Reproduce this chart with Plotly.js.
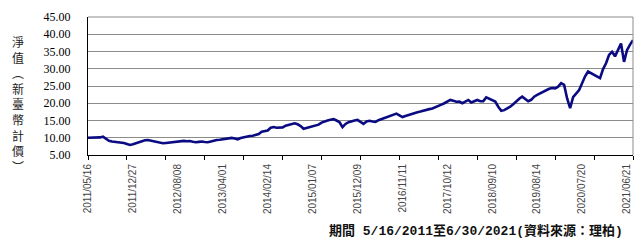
<!DOCTYPE html>
<html>
<head>
<meta charset="utf-8">
<script src="https://cdn.plot.ly/plotly-3.0.1.min.js"></script>
<style>html,body{margin:0;padding:0;background:#fff;}#chart{width:644px;height:242px;}</style>
</head>
<body>
<div id="chart"></div>
<script>
// NAV (TWD) at equal steps along the trading-day axis
const nav = [
10.0,10.0,9.95,10.0,10.1,10.3,9.6,9.1,8.9,8.85,
8.6,8.7,8.5,8.2,7.9,8.1,8.4,8.8,9.05,9.3,
9.35,9.2,9.0,8.85,8.7,8.4,8.5,8.6,8.6,8.8,
8.95,9.05,9.1,9.0,9.05,8.85,8.7,8.8,8.9,8.75,
8.7,8.9,9.2,9.35,9.4,9.5,9.55,9.7,9.95,9.8,
9.55,9.9,10.15,10.3,10.5,10.6,10.9,11.1,11.75,11.9,
12.1,12.9,13.1,12.9,13.0,13.0,13.5,13.8,14.1,14.2,
13.9,13.4,12.6,12.8,13.1,13.3,13.5,13.8,14.4,14.8,
15.0,15.2,15.4,15.0,14.5,13.1,14.0,14.5,14.8,15.0,
15.15,14.6,14.0,14.7,14.9,14.7,14.6,15.1,15.4,15.7,
16.2,16.4,16.7,17.0,16.5,16.0,16.3,16.6,17.0,17.3,
17.4,17.6,17.9,18.1,18.3,18.5,18.8,19.2,19.6,20.0,
20.6,20.95,20.7,20.45,20.5,20.0,20.5,20.95,20.2,20.6,
20.95,20.6,20.6,21.7,21.3,20.9,20.5,19.0,17.8,18.0,
18.4,19.0,19.7,20.6,21.3,21.9,21.2,20.6,21.0,21.9,
22.4,22.9,23.3,23.7,24.2,24.4,24.3,24.8,25.8,25.3,
21.4,18.6,21.8,22.8,23.85,25.8,27.8,29.2,28.7,28.2,
27.7,27.3,29.9,31.6,34.0,34.9,33.6,35.3,37.3,32.0,
35.4,37.0,38.3
];
const dayIndex = nav.map((v, i) => i);
const tickLabels = ["2011/05/16","2011/12/27","2012/08/08","2013/04/01","2014/02/14","2015/01/07","2015/12/09","2016/11/11","2017/10/12","2018/09/10","2019/08/14","2020/07/20","2021/06/21"];
const labelStep = 15;
const markStep = 13;
const labelPos = tickLabels.map((t, k) => k * labelStep);
const lastIdx = dayIndex[dayIndex.length - 1];
const markPos = [];
for (let p = 0; p <= lastIdx; p += markStep) markPos.push(p);
const yTitle = "淨<br>值<br>︵<br>新<br>臺<br>幣<br>計<br>價<br>︶";
const note = "期間 5/16/2011至6/30/2021(資料來源：理柏)";

const trace = {
  x: dayIndex, y: nav, type: 'scatter', mode: 'lines',
  line: {color: '#0a0a82', width: 2.6}, hoverinfo: 'skip'
};
const ghost = {x: [0], y: [null], xaxis: 'x2', yaxis: 'y', type: 'scatter', mode: 'lines', showlegend: false, hoverinfo: 'skip'};

const layout = {
  width: 644, height: 242,
  margin: {l: 88, r: 11, t: 17, b: 87},
  paper_bgcolor: '#fff', plot_bgcolor: '#fff',
  showlegend: false,
  xaxis: {
    range: [0, lastIdx], tickvals: labelPos, ticktext: tickLabels,
    tickangle: -90, ticks: '', showgrid: false, zeroline: false,
    showline: true, linecolor: '#000', linewidth: 1,
    tickfont: {family: 'Liberation Sans, Arial', size: 10, color: '#444'},
    ticklabelstandoff: 4
  },
  xaxis2: {
    overlaying: 'x', anchor: 'y', side: 'bottom', range: [0, lastIdx],
    tickvals: markPos, ticks: 'outside', ticklen: 4, tickcolor: '#000', tickwidth: 1,
    showticklabels: false, showgrid: false, zeroline: false, showline: false
  },
  yaxis: {
    range: [5, 45], dtick: 5, tick0: 5, tickformat: '.2f',
    showgrid: true, gridcolor: '#8c8c8c', gridwidth: 1,
    zeroline: false, showline: true, linecolor: '#000', linewidth: 1,
    ticks: '', ticklabelstandoff: 14,
    tickfont: {family: 'Liberation Serif, Times New Roman, serif', size: 12, color: '#000'}
  },
  shapes: [
    {type: 'line', xref: 'paper', yref: 'paper', x0: 0, x1: 1, y0: 1, y1: 1, line: {color: '#8c8c8c', width: 1}},
    {type: 'line', xref: 'paper', yref: 'paper', x0: 1, x1: 1, y0: 0, y1: 1, line: {color: '#8c8c8c', width: 1}}
  ],
  annotations: [
    {text: yTitle, xref: 'paper', yref: 'paper', x: -0.128, y: 0.37, xanchor: 'center', yanchor: 'middle',
     showarrow: false, font: {family: 'Noto Sans CJK TC', size: 12, color: '#222'}},
    {text: note, xref: 'paper', yref: 'paper', x: 0.985, y: -0.551, xanchor: 'right', yanchor: 'middle',
     showarrow: false, font: {family: 'Liberation Mono, Noto Sans CJK TC', size: 13, color: '#111', weight: 'bold'}}
  ]
};

Plotly.newPlot('chart', [trace, ghost], layout, {staticPlot: true, displayModeBar: false});
</script>
</body>
</html>
